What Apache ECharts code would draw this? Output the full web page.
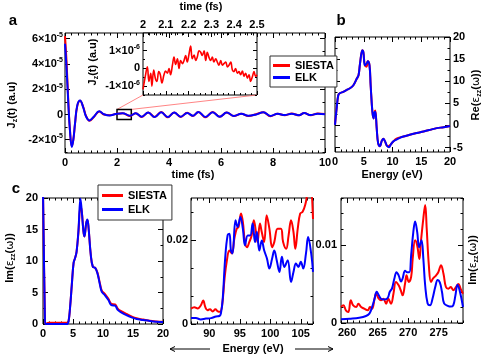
<!DOCTYPE html>
<html>
<head>
<meta charset="utf-8">
<script src="https://cdn.jsdelivr.net/npm/echarts@6/dist/echarts.min.js"></script>
<style>
html, body { margin: 0; padding: 0; background: #fff; }
#main { width: 485px; height: 359px; }
</style>
</head>
<body>
<div id="main"></div>
<script>
// panel a: J_z(t), in units of 1e-5 a.u.
var timeA = [0, 0.064, 0.128, 0.19, 0.26, 0.32, 0.385, 0.47, 0.58, 0.7, 0.81, 0.94, 1.1, 1.32, 1.5, 1.72, 1.95, 2.22, 2.5, 2.72, 2.95, 3.2, 3.45, 3.7, 3.95, 4.2, 4.45, 4.7, 4.92, 5.13, 5.4, 5.68, 5.95, 6.22, 6.5, 6.78, 7.05, 7.35, 7.63, 7.9, 8.18, 8.45, 8.72, 9.0, 9.2, 9.45, 9.72, 10];
var jzSiesta = [6.2, 4.0, 1.0, -1.2, -2.5, -2.0, -0.75, 0.65, 1.08, 0.6, -0.12, -0.5, -0.22, 0.23, 0.0, -0.06, 0.04, 0.1, -0.12, 0.1, -0.2, 0.16, -0.2, 0.2, -0.22, 0.16, -0.2, 0.13, -0.12, 0.2, -0.22, 0.2, -0.18, 0.15, -0.13, 0.06, -0.12, 0.02, 0.18, -0.14, 0.06, -0.06, 0.07, -0.07, 0.12, -0.06, 0.07, 0.03];
var jzElk = [5.6, 3.5, 0.84, -1.26, -2.57, -2.0, -0.73, 0.7, 1.1, 0.57, -0.16, -0.47, -0.2, 0.25, 0.02, -0.08, 0.03, 0.1, -0.1, 0.1, -0.18, 0.15, -0.2, 0.18, -0.2, 0.15, -0.18, 0.12, -0.1, 0.2, -0.2, 0.18, -0.18, 0.15, -0.12, 0.05, -0.1, 0.0, 0.18, -0.12, 0.05, -0.05, 0.06, -0.06, 0.12, -0.05, 0.06, 0.02];

// inset: SIESTA J_z(t) from 2 to 2.5 fs, in units of 1e-6 a.u.
var timeInset = [2.000, 2.010, 2.019, 2.026, 2.034, 2.039, 2.047, 2.054, 2.061, 2.069,
    2.076, 2.083, 2.092, 2.099, 2.107, 2.114, 2.121, 2.129, 2.136, 2.143,
    2.151, 2.158, 2.165, 2.173, 2.180, 2.187, 2.194, 2.202, 2.209, 2.216,
    2.224, 2.231, 2.238, 2.246, 2.253, 2.260, 2.268, 2.275, 2.282, 2.289,
    2.297, 2.304, 2.311, 2.319, 2.326, 2.333, 2.341, 2.348, 2.355, 2.363,
    2.370, 2.377, 2.385, 2.392, 2.399, 2.406, 2.414, 2.421, 2.428, 2.436,
    2.443, 2.450, 2.458, 2.465, 2.472, 2.480, 2.487, 2.494, 2.500];
var jzInset = [-1.18, -0.45, 0.09, -0.73, -0.27, -1.0, -0.09, -0.55, -0.73, -0.18,
    -0.36, -0.82, -0.36, -0.15, -0.27, 0, -0.36, 0.18, 0.64, 0.22,
    0.55, 0, 0.45, 0.27, 0.45, 0.73, 0.36, 0.82, 1.27, 0.55,
    0.76, 0.45, 0.64, 1.0, 0.91, 0.73, 1.0, 0.45, 0.91, 0.64,
    0.45, 0.64, 0.36, 0.55, 0.36, 0.18, 0.45, 0.18, 0.27, 0.36,
    0.09, 0.18, 0.36, -0.09, -0.18, 0, -0.27, -0.18, -0.36, -0.15,
    -0.45, -0.27, -0.55, -0.36, -0.73, -0.45, -0.18, -0.45, -0.36];

// panel b: Re(eps_zz)
var energyB = [0, 0.29, 0.58, 0.87, 1.45, 2.0, 2.6, 3.2, 3.8, 4.1, 4.35, 4.76, 4.93, 5.2, 5.5, 5.7, 6.0, 6.2, 6.5, 6.7, 6.84, 7.0, 7.25, 7.5, 7.83, 8.1, 8.4, 8.7, 9.1, 9.4, 9.7, 10.15, 10.7, 11.3, 11.9, 13.0, 14.2, 15.4, 16.5, 17.7, 18.9, 20];
var reSiesta = [0.15, 3.9, 6.9, 7.3, 7.6, 8.0, 8.4, 9.1, 10.6, 11.4, 14.0, 17.0, 16.6, 13.6, 13.3, 14.5, 13.6, 9.1, 3.1, 1.6, 2.8, 3.4, -0.6, -4.0, -4.7, -3.6, -3.0, -3.6, -4.7, -4.6, -4.3, -3.6, -3.0, -2.7, -2.5, -2.1, -1.7, -1.35, -1.0, -0.6, -0.4, -0.1];
var reElk = [0.15, 3.9, 6.9, 7.3, 7.6, 8.0, 8.4, 9.1, 10.6, 11.4, 14.0, 17.0, 16.6, 13.6, 14.0, 14.5, 13.6, 9.1, 3.1, 1.6, 2.8, 3.1, -0.6, -4.0, -4.7, -3.6, -3.0, -3.6, -4.7, -4.9, -4.3, -3.6, -3.2, -2.8, -2.5, -2.1, -1.7, -1.35, -1.0, -0.6, -0.4, -0.1];

// panel c, left: Im(eps_zz) 0-20 eV
var energyC1 = [0, 0.3, 0.4, 1.0, 2.0, 3.0, 4.0, 4.25, 4.5, 4.8, 5.1, 5.36, 5.6, 5.9, 6.24, 6.46, 6.74, 6.9, 7.2, 7.4, 7.6, 7.96, 8.3, 8.7, 9.06, 9.5, 9.8, 10.3, 10.9, 11.4, 12.0, 12.5, 13.1, 13.9, 14.75, 15.6, 16.7, 17.8, 18.9, 20];
var imSiesta1 = [21, 2, 0, 0.2, 0.2, 0.2, 0.2, 0.4, 2.5, 6.2, 9.7, 10.5, 11.5, 14.5, 18.6, 17.9, 14.7, 13.9, 16.0, 16.5, 15.2, 11.0, 9.1, 8.9, 8.2, 6.4, 5.3, 4.8, 4.0, 3.2, 3.1, 2.4, 2.0, 1.6, 1.2, 0.9, 0.7, 0.5, 0.4, 0.35];
var imElk1 = [21, 2, 0, 0, 0, 0, 0, 0.4, 2.5, 6.2, 9.7, 10.5, 11.5, 14.7, 19.9, 17.9, 14.7, 13.9, 16.0, 16.6, 15.2, 11.0, 9.1, 8.9, 8.1, 6.2, 5.1, 4.6, 3.8, 3.0, 2.9, 2.2, 1.8, 1.4, 1.06, 0.8, 0.64, 0.48, 0.37, 0.32];

// panel c, middle: 87-107 eV
var energyC2Siesta = [87.0, 87.55, 88.1, 88.6, 89.0, 89.35, 89.7, 90.1, 90.55, 91.0, 91.4, 91.75, 92.1, 92.5, 92.85, 93.3, 93.7, 94.1, 94.5, 94.8, 95.2, 95.5, 95.85, 96.2, 96.55, 96.95, 97.3, 97.65, 97.9, 98.3, 98.6, 99.0, 99.4, 99.85, 100.3, 100.65, 101.2, 101.75, 102.1, 102.6, 103.0, 103.4, 103.8, 104.1, 104.5, 104.9, 105.3, 105.75, 106.1, 106.5, 107.0];
var imSiesta2 = [0.00365, 0.0040, 0.0037, 0.0044, 0.0056, 0.0040, 0.0033, 0.0035, 0.0030, 0.0035, 0.0030, 0.0029, 0.0044, 0.0108, 0.0148, 0.0175, 0.0168, 0.0203, 0.0227, 0.0231, 0.0263, 0.0243, 0.0195, 0.0183, 0.0195, 0.0211, 0.0247, 0.0219, 0.0195, 0.0239, 0.0219, 0.0195, 0.0259, 0.0227, 0.0183, 0.0195, 0.0227, 0.0227, 0.0195, 0.0179, 0.0211, 0.0247, 0.0219, 0.0179, 0.0227, 0.0263, 0.0267, 0.0285, 0.0312, 0.0335, 0.0250];
var energyC2Elk = [87, 87.8, 88.6, 89.45, 90.3, 91.1, 91.65, 91.9, 92.2, 92.6, 93.0, 93.3, 93.55, 93.8, 94.3, 94.65, 95.1, 95.5, 95.85, 96.3, 96.7, 97.1, 97.5, 97.8, 98.2, 98.6, 99.0, 99.45, 99.85, 100.3, 100.65, 101.05, 101.5, 101.9, 102.3, 102.85, 103.4, 103.8, 104.2, 104.6, 105.0, 105.4, 105.85, 106.2, 106.7, 107];
var imElk2 = [0.0014, 0.0014, 0.0011, 0.0013, 0.0014, 0.0018, 0.0019, 0.0025, 0.0060, 0.0156, 0.0211, 0.0215, 0.0175, 0.0168, 0.0247, 0.0231, 0.0255, 0.0227, 0.0187, 0.0211, 0.0211, 0.0239, 0.0195, 0.0219, 0.0175, 0.0199, 0.0175, 0.0156, 0.0132, 0.0156, 0.0175, 0.0152, 0.0124, 0.0160, 0.0136, 0.0152, 0.0100, 0.0124, 0.0144, 0.0136, 0.0148, 0.0132, 0.0168, 0.0207, 0.0168, 0.0124];

// panel c, right: 259-279 eV
var energyC3Siesta = [259, 259.4, 259.8, 260.2, 260.6, 261.0, 261.5, 261.85, 262.3, 262.8, 263.4, 263.75, 264.1, 264.5, 264.75, 265.2, 265.55, 265.95, 266.4, 266.75, 267.2, 267.6, 268.0, 268.45, 268.8, 269.1, 269.5, 269.75, 270.1, 270.5, 270.75, 271.15, 271.5, 271.85, 272.1, 272.5, 272.8, 273.05, 273.4, 273.75, 274.1, 274.6, 274.95, 275.4, 275.8, 276.2, 276.6, 277.0, 277.4, 277.85, 278.25, 278.6, 279];
var imSiesta3 = [0.00205, 0.00226, 0.00162, 0.00141, 0.0029, 0.00226, 0.00205, 0.00247, 0.00205, 0.00183, 0.00162, 0.00205, 0.00183, 0.0031, 0.00375, 0.0031, 0.0029, 0.0031, 0.00247, 0.0031, 0.00247, 0.00375, 0.00525, 0.00482, 0.00418, 0.00354, 0.00504, 0.0061, 0.00525, 0.0059, 0.0082, 0.0106, 0.0099, 0.0082, 0.0104, 0.0134, 0.0151, 0.0121, 0.0074, 0.00525, 0.0057, 0.0061, 0.0065, 0.0074, 0.0063, 0.0046, 0.0044, 0.0046, 0.0042, 0.0046, 0.005, 0.0044, 0.00375];
var energyC3Elk = [259, 260.4, 262, 263.1, 263.65, 264.1, 264.5, 264.85, 265.2, 265.55, 266.1, 266.65, 267.0, 267.35, 267.75, 268.1, 268.45, 268.85, 269.1, 269.5, 269.8, 270.2, 270.5, 270.85, 271.15, 271.5, 271.8, 272.2, 272.5, 272.8, 273.2, 273.6, 274.0, 274.45, 274.85, 275.2, 275.55, 275.9, 276.5, 277.0, 277.4, 277.75, 278.1, 278.5, 279];
var imElk3 = [0.00047, 0.00055, 0.00068, 0.0009, 0.0012, 0.00205, 0.0031, 0.004, 0.00354, 0.0031, 0.003, 0.0032, 0.004, 0.0044, 0.0057, 0.0065, 0.0061, 0.0053, 0.0057, 0.0067, 0.0065, 0.0065, 0.0087, 0.0116, 0.013, 0.0116, 0.0097, 0.0106, 0.0082, 0.0048, 0.0025, 0.00226, 0.0031, 0.0046, 0.0055, 0.0052, 0.004, 0.0025, 0.0022, 0.0021, 0.00226, 0.0035, 0.0049, 0.004, 0.00205];

// tick labels
var tickTimeA = [0, 2, 4, 6, 8, 10];
var tickJzA = [-2, 0, 2, 4, 6];
var tickTimeInset = [2, 2.1, 2.2, 2.3, 2.4, 2.5];
var tickJzInset = [-1, 0, 1];
var tickEnergyB = [0, 5, 10, 15, 20];
var tickReB = [-5, 0, 5, 10, 15, 20];
var tickEnergyC1 = [0, 5, 10, 15, 20];
var tickImC1 = [0, 5, 10, 15, 20];
var tickEnergyC2 = [90, 95, 100, 105];
var tickImC2 = [0, 0.02];
var tickEnergyC3 = [260, 265, 270, 275];
var tickImC3 = [0, 0.01];

// zoom box drawn on panel a (time, J_z)
var zoomBox = [[2, -0.4], [2.55, 0.4]];

var F = '"Liberation Sans", Arial, Helvetica, sans-serif';
var chart = echarts.init(document.getElementById('main'));

function steps(a, b, s) {
    var out = [];
    for (var v = a; v <= b + s / 1000; v += s) out.push(Math.round(v * 1e6) / 1e6);
    return out;
}
function pairs(xs, ys) {
    return xs.map(function (x, i) { return [x, ys[i]]; });
}
function plain(v) { return String(Math.round(v * 1e6) / 1e6); }
function sci(exp) {
    return function (v) {
        return v === 0 ? '{n|0}' : '{n|' + v + '×10}{s|' + exp + '}';
    };
}

var labelRich = {
    n: { fontSize: 11, fontWeight: 'bold', fontFamily: F, color: '#000', lineHeight: 14 },
    s: { fontSize: 7, fontWeight: 'bold', fontFamily: F, color: '#000', lineHeight: 7, verticalAlign: 'top' }
};

var xAxes = [], yAxes = [];

function sideAxes(grid, pos, min, max, major, minor, labels, fmt, margin, len) {
    var base = {
        type: 'value', gridIndex: grid, position: pos, min: min, max: max,
        axisLine: { show: false, onZero: false },
        splitLine: { show: false }
    };
    var ts = { color: '#000', width: 1 };
    var a = Object.assign({}, base, {
        axisTick: { show: true, inside: true, length: len, customValues: major, lineStyle: ts },
        axisLabel: labels ? {
            show: true, customValues: labels, formatter: fmt || plain, margin: margin,
            color: '#000', fontFamily: F, fontSize: 11, fontWeight: 'bold', rich: labelRich
        } : { show: false }
    });
    var b = Object.assign({}, base, {
        axisTick: { show: true, inside: true, length: len / 2, customValues: minor, lineStyle: ts },
        axisLabel: { show: false }
    });
    return [a, b];
}

function addPanel(g, p) {
    var idx = { x: xAxes.length, y: yAxes.length };
    ['bottom', 'top'].forEach(function (pos) {
        xAxes.push.apply(xAxes, sideAxes(g, pos, p.xMin, p.xMax, p.xMajor, p.xMinor,
            pos === p.xSide ? p.xMajor : null, p.xFmt, p.xMargin, p.len || 5));
    });
    ['left', 'right'].forEach(function (pos) {
        yAxes.push.apply(yAxes, sideAxes(g, pos, p.yMin, p.yMax, p.yMajor, p.yMinor,
            pos === p.ySide ? p.yLabels || p.yMajor : null, p.yFmt, p.yMargin, p.len || 5));
    });
    return idx;
}

var gridBox = { show: true, borderColor: '#000', borderWidth: 1, outerBoundsMode: 'none', containLabel: false };
var grids = [
    Object.assign({ left: 65, top: 33, width: 260, height: 120 }, gridBox),
    Object.assign({ left: 143, top: 33, width: 114, height: 62, backgroundColor: '#fff' }, gridBox),
    Object.assign({ left: 335, top: 37, width: 115, height: 115 }, gridBox),
    Object.assign({ left: 43, top: 198, width: 120, height: 126 }, gridBox),
    Object.assign({ left: 191, top: 198, width: 122, height: 126 }, gridBox),
    Object.assign({ left: 341, top: 198, width: 122, height: 125 }, gridBox)
];

var axA = addPanel(0, {
    xMin: 0, xMax: 10, xMajor: tickTimeA, xMinor: steps(0, 10, 0.25), xSide: 'bottom', xMargin: 4,
    yMin: -3.05, yMax: 6.45, yMajor: tickJzA, yMinor: steps(-3, 6, 1), ySide: 'left', yMargin: 2, yFmt: sci('-5')
});
var axIn = addPanel(1, {
    xMin: 2, xMax: 2.5, xMajor: tickTimeInset, xMinor: steps(2, 2.5, 0.025), xSide: 'top', xMargin: 3,
    yMin: -1.5, yMax: 2, yMajor: tickJzInset, yMinor: [-1.5, -0.5, 0.5, 1.5], ySide: 'left', yMargin: 3, yFmt: sci('-6'),
    len: 4
});
var axB = addPanel(2, {
    xMin: 0, xMax: 20, xMajor: tickEnergyB, xMinor: steps(0, 20, 1), xSide: 'bottom', xMargin: 4,
    yMin: -6, yMax: 20, yMajor: tickReB, yMinor: steps(-5, 20, 2.5), ySide: 'right', yMargin: 3
});
var axC1 = addPanel(3, {
    xMin: 0, xMax: 20, xMajor: tickEnergyC1, xMinor: steps(0, 20, 1), xSide: 'bottom', xMargin: 4,
    yMin: 0, yMax: 20, yMajor: tickImC1, yMinor: steps(0, 20, 2.5), ySide: 'left', yMargin: 5
});
var axC2 = addPanel(4, {
    xMin: 87, xMax: 107, xMajor: tickEnergyC2, xMinor: steps(87, 107, 1), xSide: 'bottom', xMargin: 4,
    yMin: 0, yMax: 0.03, yMajor: tickImC2, yMinor: [0.02 / 3, 0.04 / 3, 0.08 / 3], ySide: 'left', yMargin: 3
});
var axC3 = addPanel(5, {
    xMin: 259, xMax: 279, xMajor: tickEnergyC3, xMinor: steps(259, 279, 1), xSide: 'bottom', xMargin: 4,
    yMin: 0, yMax: 0.016, yMajor: tickImC3, yMinor: steps(0, 0.016, 0.002), ySide: 'left', yMargin: 4
});

function line(name, color, ax, xs, ys, width) {
    return {
        name: name, type: 'line', xAxisIndex: ax.x, yAxisIndex: ax.y,
        data: pairs(xs, ys), symbol: 'none', showSymbol: false, smooth: 0.4,
        lineStyle: { color: color, width: width || 2 }, itemStyle: { color: color },
        clip: true, z: 3
    };
}

var RED = '#ff0000', BLUE = '#0000ff';
var elkA = line('ELK', BLUE, axA, timeA, jzElk);
elkA.markArea = {
    silent: true,
    itemStyle: { color: 'rgba(0,0,0,0)', borderColor: '#000', borderWidth: 1.5 },
    data: [[{ coord: zoomBox[0] }, { coord: zoomBox[1] }]]
};

var series = [
    line('SIESTA', RED, axA, timeA, jzSiesta),
    elkA,
    line('SIESTA', RED, axIn, timeInset, jzInset, 1.6),
    line('SIESTA', RED, axB, energyB, reSiesta),
    line('ELK', BLUE, axB, energyB, reElk),
    line('SIESTA', RED, axC1, energyC1, imSiesta1),
    line('ELK', BLUE, axC1, energyC1, imElk1),
    line('SIESTA', RED, axC2, energyC2Siesta, imSiesta2),
    line('ELK', BLUE, axC2, energyC2Elk, imElk2),
    line('SIESTA', RED, axC3, energyC3Siesta, imSiesta3),
    line('ELK', BLUE, axC3, energyC3Elk, imElk3)
];

var legendText = { fontFamily: F, fontWeight: 'bold', fontSize: 11, color: '#000' };

chart.setOption({
    animation: false,
    backgroundColor: '#fff',
    textStyle: { fontFamily: F },
    grid: grids,
    xAxis: xAxes,
    yAxis: yAxes,
    legend: [
        {
            data: ['SIESTA', 'ELK'], orient: 'vertical', left: 270, top: 56,
            icon: 'rect', padding: [4, 3, 4, 3], itemWidth: 17, itemHeight: 3, itemGap: 1,
            borderColor: '#333', borderWidth: 1, backgroundColor: '#fff',
            textStyle: legendText, selectedMode: false, z: 10
        },
        {
            data: ['SIESTA', 'ELK'], orient: 'vertical', left: 98, top: 185,
            icon: 'rect', padding: [5, 5, 5, 4], itemWidth: 21, itemHeight: 3, itemGap: 3,
            borderColor: '#333', borderWidth: 1, backgroundColor: '#fff',
            textStyle: legendText, selectedMode: false, z: 10
        }
    ],
    series: series
});

// labels and decorations
var nameRich = {
    b: { fontSize: 11, fontWeight: 'bold', fontFamily: F, fill: '#000', lineHeight: 14 },
    sub: { fontSize: 7, fontWeight: 'bold', fontFamily: F, fill: '#000', lineHeight: 8, verticalAlign: 'bottom' },
    g: { fontSize: 11, fontWeight: 'normal', fontFamily: '"DejaVu Sans", sans-serif', fill: '#000', lineHeight: 14 }
};
function text(x, y, str, size, rot) {
    return {
        type: 'text', x: x, y: y, rotation: rot || 0, silent: true, z: 20,
        style: {
            text: str, fill: '#000', fontSize: size || 11, fontWeight: 'bold', fontFamily: F,
            align: 'center', verticalAlign: 'middle', rich: nameRich
        }
    };
}
var UP = Math.PI / 2;
var imName = '{b|Im(}{g|ε}{sub|zz}{b|(}{g|ω}{b|))}';

var tl = chart.convertToPixel({ xAxisIndex: axA.x, yAxisIndex: axA.y }, [zoomBox[0][0], zoomBox[1][1]]);
var tr = chart.convertToPixel({ xAxisIndex: axA.x, yAxisIndex: axA.y }, [zoomBox[1][0], zoomBox[1][1]]);
var bl = chart.convertToPixel({ xAxisIndex: axIn.x, yAxisIndex: axIn.y }, [2, -1.5]);
var br = chart.convertToPixel({ xAxisIndex: axIn.x, yAxisIndex: axIn.y }, [2.5, -1.5]);
var guide = { stroke: '#ff6666', lineWidth: 0.8 };

chart.setOption({
    graphic: [
        text(13, 21, 'a', 15),
        text(341, 21, 'b', 15),
        text(16, 189, 'c', 15),
        text(193, 175, 'time (fs)'),
        text(201, 7, 'time (fs)'),
        text(392, 175, 'Energy (eV)'),
        text(253, 349, 'Energy (eV)'),
        text(12, 105, '{b|J}{sub|z}{b|(t) (a.u)}', 11, UP),
        text(93, 62, '{b|J}{sub|z}{b|(t) (a.u)}', 11, UP),
        text(476, 95, '{b|Re(}{g|ε}{sub|zz}{b|(}{g|ω}{b|))}', 11, UP),
        text(10, 258, imName, 11, UP),
        text(473, 260, imName, 11, UP),
        { type: 'line', silent: true, shape: { x1: tl[0], y1: tl[1], x2: bl[0], y2: bl[1] }, style: guide },
        { type: 'line', silent: true, shape: { x1: tr[0], y1: tr[1], x2: br[0], y2: br[1] }, style: guide },
        { type: 'line', silent: true, shape: { x1: 170, y1: 349, x2: 210, y2: 349 }, style: { stroke: '#000', lineWidth: 1 } },
        { type: 'polyline', silent: true, shape: { points: [[175, 346.5], [170, 349], [175, 351.5]] }, style: { stroke: '#000', fill: null, lineWidth: 1 } },
        { type: 'line', silent: true, shape: { x1: 295, y1: 349, x2: 333, y2: 349 }, style: { stroke: '#000', lineWidth: 1 } },
        { type: 'polyline', silent: true, shape: { points: [[328, 346.5], [333, 349], [328, 351.5]] }, style: { stroke: '#000', fill: null, lineWidth: 1 } }
    ]
});
</script>
</body>
</html>
